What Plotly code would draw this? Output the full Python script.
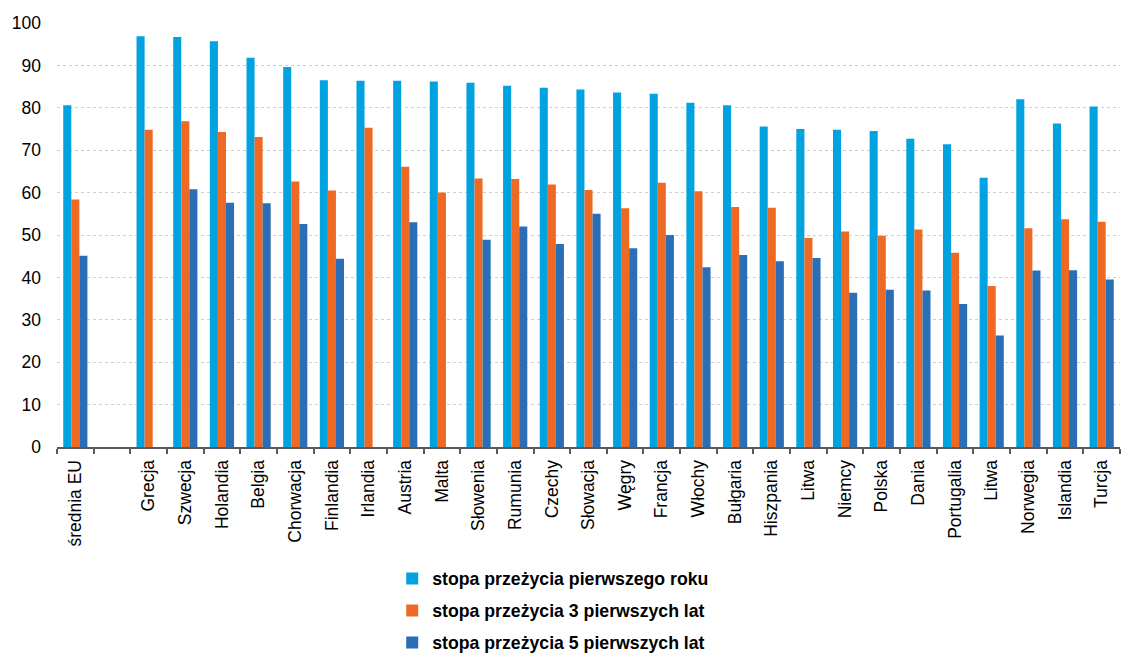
import plotly.graph_objects as go

categories = ["średnia EU", "", "Grecja", "Szwecja", "Holandia", "Belgia", "Chorwacja",
              "Finlandia", "Irlandia", "Austria", "Malta", "Słowenia", "Rumunia", "Czechy",
              "Słowacja", "Węgry", "Francja", "Włochy", "Bułgaria", "Hiszpania", "Litwa",
              "Niemcy", "Polska", "Dania", "Portugalia", "Litwa", "Norwegia", "Islandia", "Turcja"]

rok1 = [80.6, None, 96.9, 96.7, 95.7, 91.8, 89.6, 86.5, 86.4, 86.4, 86.2, 85.9, 85.2, 84.7,
        84.3, 83.6, 83.3, 81.2, 80.6, 75.6, 75.0, 74.8, 74.5, 72.7, 71.4, 63.5, 82.0, 76.3, 80.3]
lat3 = [58.4, None, 74.8, 76.8, 74.3, 73.1, 62.6, 60.5, 75.3, 66.1, 60.0, 63.3, 63.2, 61.9,
        60.6, 56.3, 62.3, 60.3, 56.6, 56.4, 49.3, 50.8, 49.8, 51.3, 45.8, 38.0, 51.6, 53.7, 53.1]
lat5 = [45.1, None, None, 60.8, 57.6, 57.5, 52.6, 44.4, None, 53.0, None, 48.9, 52.0, 47.9,
        55.0, 46.9, 50.0, 42.4, 45.3, 43.8, 44.6, 36.4, 37.1, 36.9, 33.7, 26.3, 41.6, 41.7, 39.5]

series_names = ["stopa przeżycia pierwszego roku",
                "stopa przeżycia 3 pierwszych lat",
                "stopa przeżycia 5 pierwszych lat"]
colors = ["#00A3E0", "#EE6A24", "#2A6EB5"]

idx = list(range(len(categories)))

fig = go.Figure()
for name, vals, col in zip(series_names, [rok1, lat3, lat5], colors):
    fig.add_trace(go.Bar(x=idx, y=vals, name=name, marker=dict(color=col, line=dict(width=0)),
                         legendgroup=name))

font_family = "Liberation Sans, Arial, sans-serif"

fig.update_layout(
    width=1128, height=653,
    margin=dict(l=57, r=8, t=23, b=206, autoexpand=False),
    paper_bgcolor="white", plot_bgcolor="white",
    barmode="group", bargap=0.34, bargroupgap=0,
    font=dict(family=font_family, size=17, color="#000000"),
    showlegend=True,
    legend=dict(orientation="v", xref="container", yref="container",
                x=0.3477, xanchor="left", y=0.1416, yanchor="top",
                font=dict(size=17.7, family=font_family, color="#000000", weight="bold"),
                tracegroupgap=6, itemwidth=30, bgcolor="rgba(0,0,0,0)"),
)

fig.update_xaxes(
    range=[-0.5, len(categories) - 0.5],
    tickmode="array", tickvals=idx, ticktext=categories, tickangle=-90,
    ticks="", showgrid=False, zeroline=False,
    showline=True, linecolor="#595959", linewidth=2,
    tickfont=dict(size=17.5, family=font_family, color="#000000"),
    minor=dict(tick0=0.5, dtick=1, ticks="outside", ticklen=5, tickwidth=1.5,
               tickcolor="#595959", showgrid=False),
    ticklabelstandoff=4,
    fixedrange=True,
)

fig.update_yaxes(
    range=[0, 100], tickmode="linear", tick0=0, dtick=10,
    showgrid=True, gridcolor="#CFCFCF", gridwidth=1, griddash="dot",
    zeroline=False, showline=False, ticks="",
    tickfont=dict(size=17.5, family=font_family, color="#000000"),
    ticklabelstandoff=15,
    fixedrange=True,
)

fig.write_html("out.html")
